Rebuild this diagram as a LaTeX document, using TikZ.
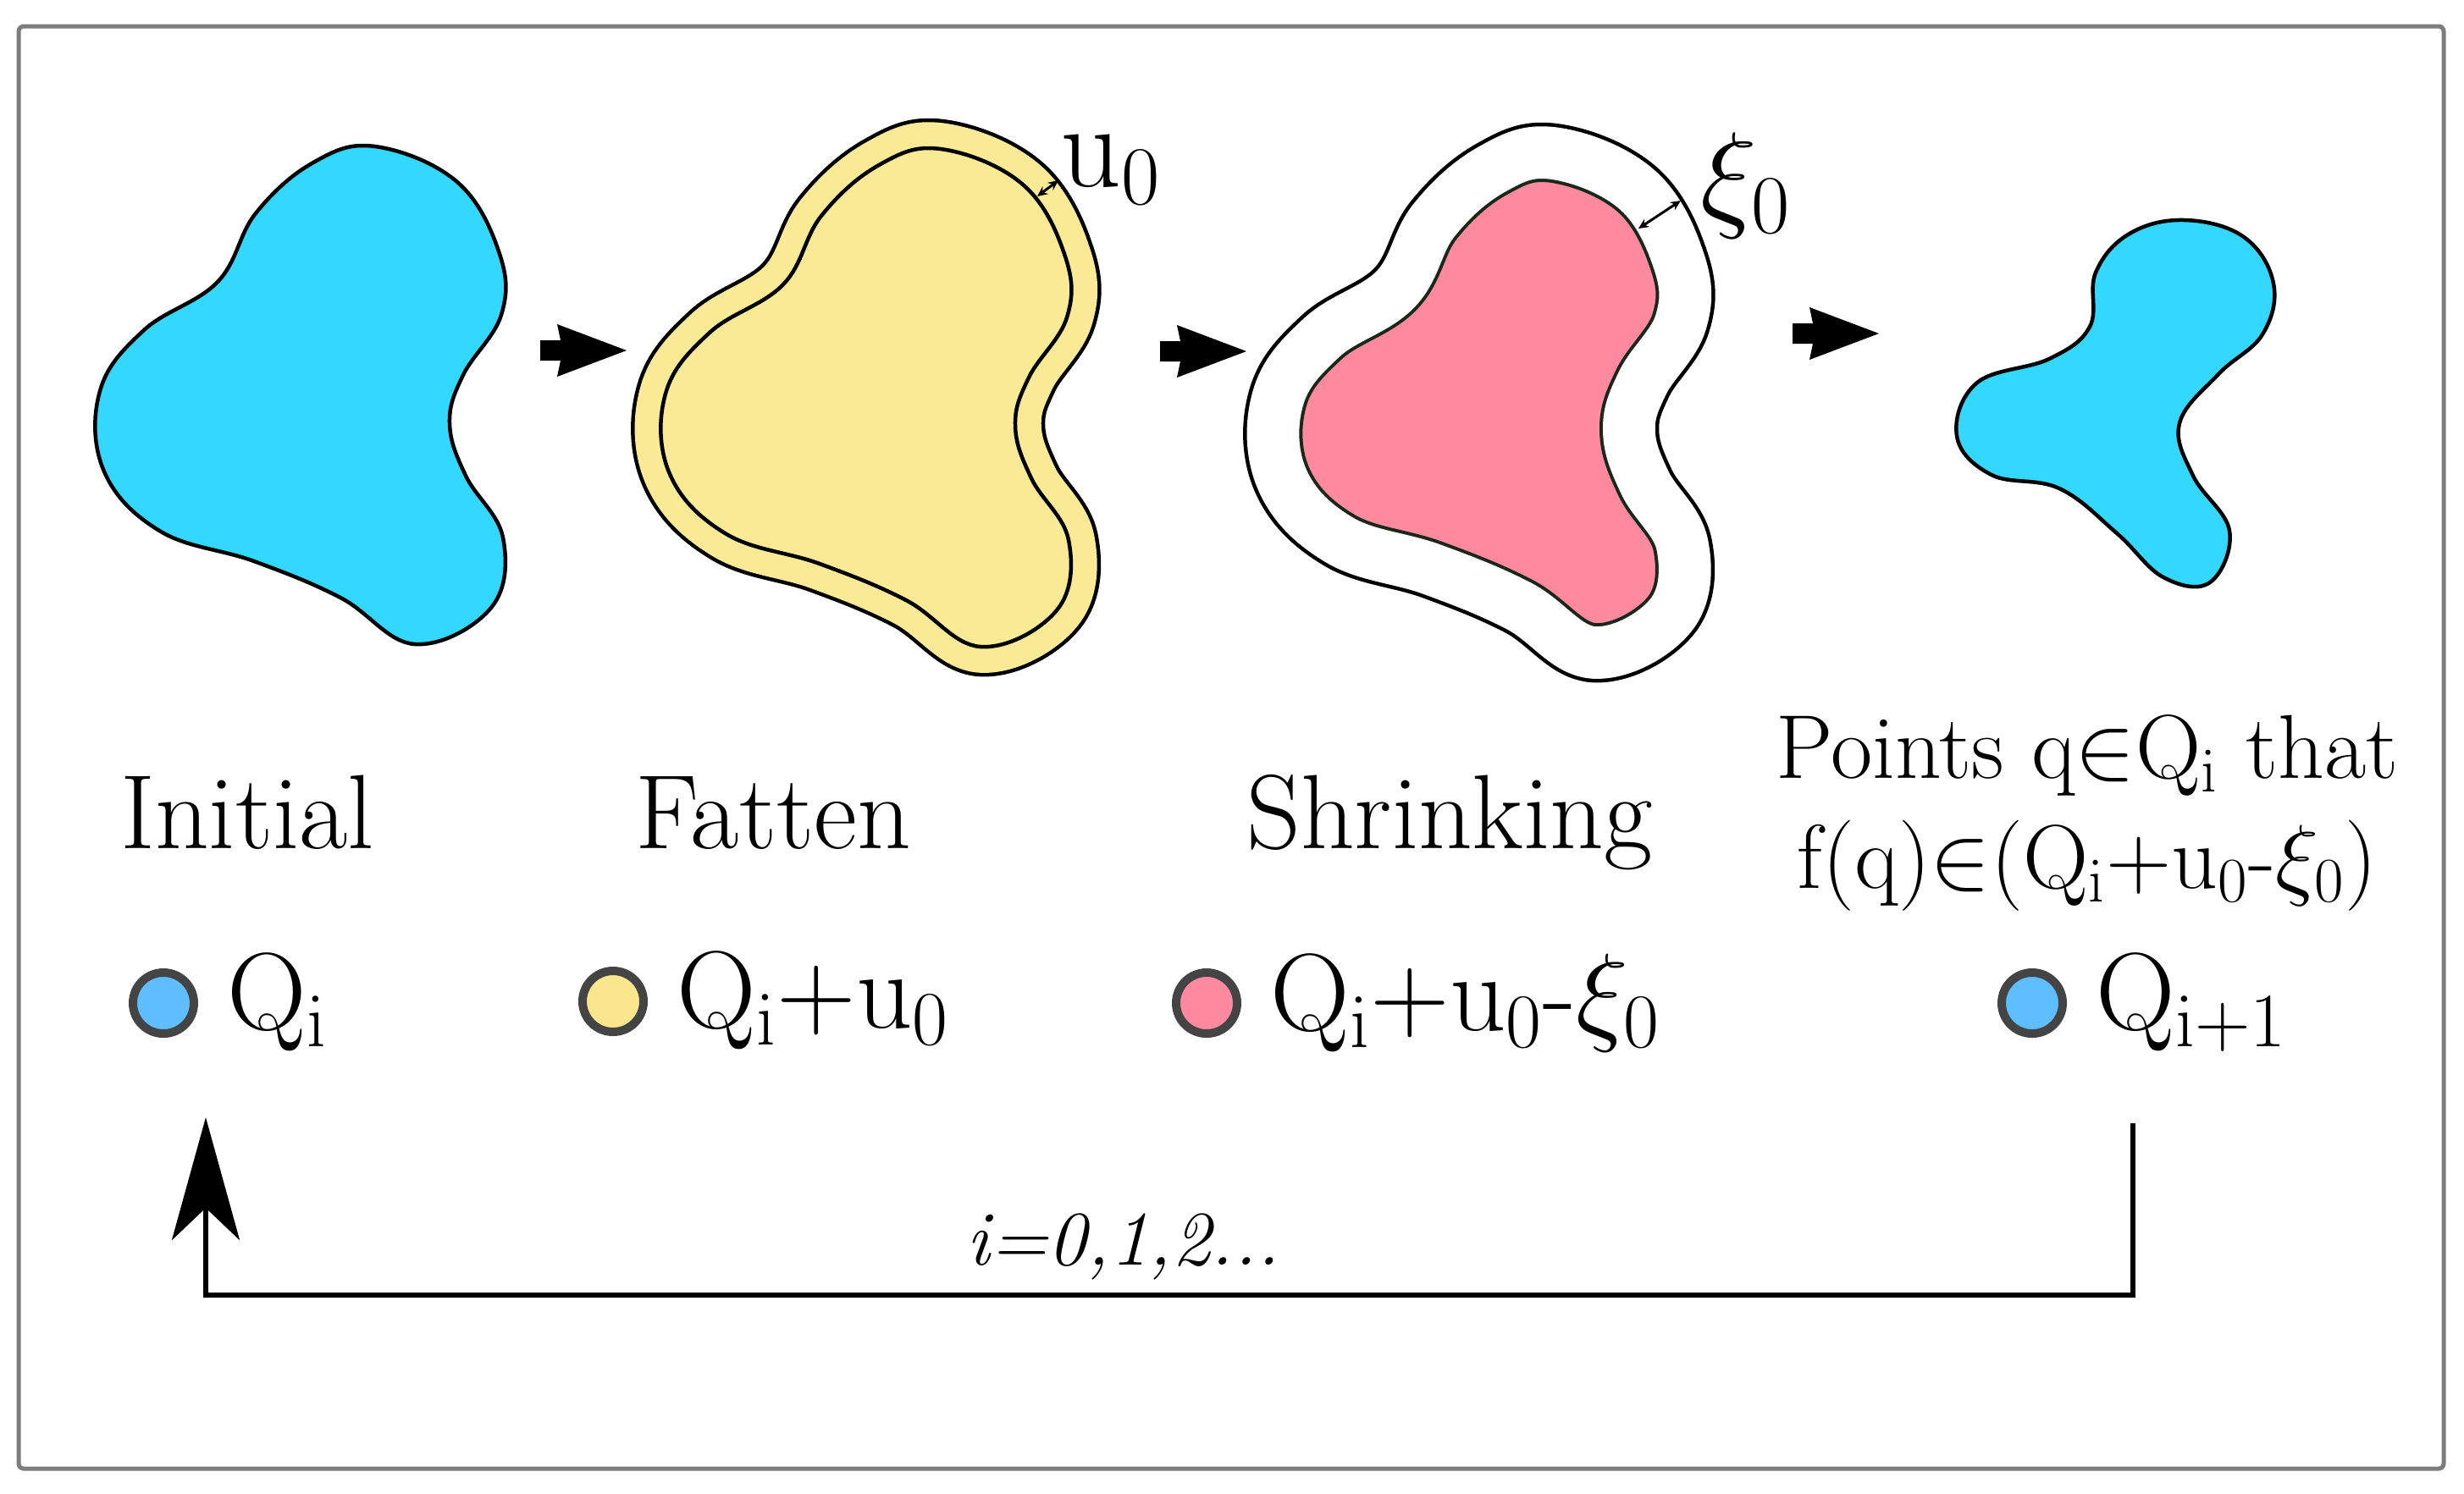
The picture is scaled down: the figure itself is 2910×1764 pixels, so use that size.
\RequirePackage{fix-cm}
\documentclass[tikz,border=0pt]{standalone}
\usepackage{amsmath}
\usetikzlibrary{arrows.meta, positioning}

\definecolor{blobcyan}{RGB}{52,216,255}
\definecolor{dotblue}{RGB}{95,190,255}
\definecolor{fatyellow}{RGB}{250,234,150}
\definecolor{dotyellow}{RGB}{250,230,140}
\definecolor{shrinkpink}{RGB}{255,138,160}
\definecolor{pinkline}{RGB}{25,40,25}
\definecolor{ringgray}{RGB}{68,68,68}
\definecolor{framegray}{RGB}{125,125,125}

\tikzstyle{framebox} = [framegray, line width=0.5mm, rounded corners=0.6mm]
\tikzstyle{blobline} = [line width=0.45mm, line join=round]
\tikzstyle{stagetext} = [inner sep=0pt, font=\fontsize{35.5}{42}\selectfont]
\tikzstyle{pointstext} = [inner sep=0pt, font=\fontsize{30.5}{36}\selectfont]
\tikzstyle{gaptext} = [inner sep=0pt, font=\fontsize{40}{46}\selectfont]
\tikzstyle{legenddot} = [circle, minimum size=7.2mm, inner sep=0pt, draw=ringgray, line width=1mm]
\tikzstyle{legendtext} = [inner sep=0pt, font=\fontsize{37}{44}\selectfont]
\tikzstyle{gaparrow} = [line width=0.3mm, {Stealth[length=1.2mm,width=1.1mm]}-{Stealth[length=1.2mm,width=1.1mm]}]
\tikzstyle{looparrow} = [line width=0.55mm, -{Stealth[length=14.5mm,width=8mm,inset=3.8mm]}]
\tikzstyle{itertext} = [inner sep=0pt, font=\fontsize{26}{31}\selectfont\itshape]

% the set Q_i, in pixel units of the picture
\newcommand{\qshape}{plot[smooth cycle, tension=0.65] coordinates {(443,173) (540,215) (590,300) (592,372) (547,443) (531,500) (550,562) (594,635) (580,718) (490,761) (402,706) (300,663) (190,628) (123,557) (118,462) (170,390) (257,333) (302,252) (370,192)}}
% the set Q_{i+1}
\newcommand{\qnextshape}{plot[smooth cycle, tension=0.65] coordinates {(2580,260) (2650,280) (2685,335) (2672,395) (2620,442) (2574,500) (2590,562) (2633,627) (2610,688) (2555,682) (2500,630) (2432,577) (2352,561) (2311,515) (2335,452) (2420,424) (2468,386) (2475,322) (2515,276)}}
\newcommand{\blockarrow}[1]{\fill[shift={(#1)}] (0,-12) -- (24,-12) -- (20,-31) -- (102,0) -- (20,31) -- (24,12) -- (0,12) -- cycle;}

\begin{document}
\begin{tikzpicture}[x=0.1mm, y=-0.1mm]
	\useasboundingbox (0,0) rectangle (2910,1764);
	\draw[framebox] (22,31) rectangle (2886,1735);

	% initial set
	\draw[blobline, fill=blobcyan] \qshape;
	\blockarrow{638,414}

	% fatten
	\begin{scope}[shift={(668,3)}]
		\draw[line width=7.05mm, line join=round] \qshape;
		\draw[line width=6.15mm, fatyellow, line join=round] \qshape;
		\draw[blobline, fill=fatyellow] \qshape;
	\end{scope}
	\coordinate (uin) at (1225,232);
	\coordinate (uout) at (1250,213);
	\draw[gaparrow] (uin) -- (uout);
	\node[gaptext, anchor=base west] (ulabel) at (1252,220) {$\mathrm{u_0}$};
	\blockarrow{1370,415}

	% shrinking
	\begin{scope}[shift={(1392,9)}]
		\draw[line width=7.25mm, line join=round] \qshape;
		\draw[line width=6.35mm, white, line join=round] \qshape;
		\fill[white] \qshape;
		\begin{scope}
			\clip \qshape;
			\fill[shrinkpink] \qshape;
			\draw[line width=6.8mm, pinkline, line join=round] \qshape;
			\draw[line width=6.0mm, white, line join=round] \qshape;
		\end{scope}
		\draw[line width=1mm, white] \qshape;
	\end{scope}
	\coordinate (xiin) at (1935,270);
	\coordinate (xiout) at (1985,237);
	\draw[gaparrow] (xiin) -- (xiout);
	\node[gaptext, anchor=base west] (xilabel) at (2008,254) {$\xi_0$};
	\blockarrow{2117,394}

	% next set
	\draw[blobline, fill=blobcyan] \qnextshape;

	% captions
	\node[stagetext, anchor=base] (initial) at (292,1002) {Initial};
	\node[stagetext, anchor=base] (fatten) at (913,1002) {Fatten};
	\node[stagetext, anchor=base] (shrinking) at (1712,1002) {Shrinking};
	\node[pointstext, anchor=base] (pointsA) at (2465,919) {Points q$\in$Q$_\mathrm{i}$ that};
	\node[pointstext, anchor=base] (pointsB) at (2465,1049) {f(q)$\in$(Q$_\mathrm{i}$+u$_0$-$\xi_0$)};

	% legend
	\node[legenddot, fill=dotblue] (dotq) at (193,1185) {};
	\node[legendtext, right=3.4mm of dotq] (txtq) {$\mathrm{Q_i}$};
	\node[legenddot, fill=dotyellow] (dotfat) at (724,1183) {};
	\node[legendtext, right=3.4mm of dotfat] (txtfat) {$\mathrm{Q_i{+}u_0}$};
	\node[legenddot, fill=shrinkpink] (dotshrink) at (1425,1185) {};
	\node[legendtext, right=3.4mm of dotshrink] (txtshrink) {$\mathrm{Q_i{+}u_0}$-$\xi_0$};
	\node[legenddot, fill=dotblue] (dotnext) at (2400,1185) {};
	\node[legendtext, right=3.4mm of dotnext] (txtnext) {$\mathrm{Q_{i+1}}$};

	% loop back
	\coordinate (loopstart) at (2519,1327);
	\coordinate (loopcorner) at (2519,1530);
	\coordinate (looptip) at (243,1320);
	\draw[looparrow] (loopstart) -- (loopcorner) -| (looptip);
	\node[itertext, anchor=base] (iter) at (1327,1494) {i=0,1,2...};
\end{tikzpicture}
\end{document}
